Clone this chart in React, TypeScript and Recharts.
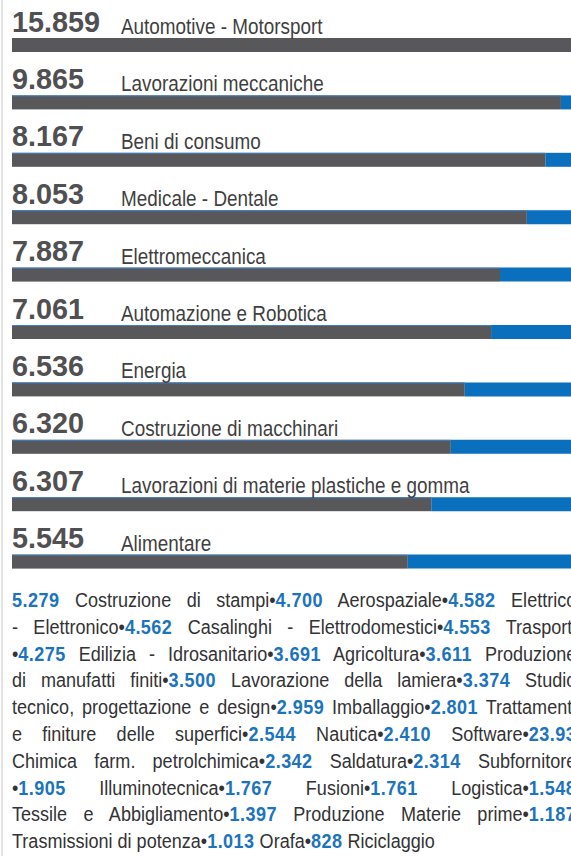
import { Bar, BarChart, LabelList, XAxis, YAxis } from "recharts"

// top ten sectors, drawn as bars
const categories = [
  "Automotive - Motorsport",
  "Lavorazioni meccaniche",
  "Beni di consumo",
  "Medicale - Dentale",
  "Elettromeccanica",
  "Automazione e Robotica",
  "Energia",
  "Costruzione di macchinari",
  "Lavorazioni di materie plastiche e gomma",
  "Alimentare",
]
const totals = [15859, 9865, 8167, 8053, 7887, 7061, 6536, 6320, 6307, 5545]
// gray / blue split of each bar, in % of the row width
const grayShare = [100, 98.2, 95.4, 92.1, 87.3, 85.7, 81.0, 78.5, 75.0, 70.8]
const blueShare = [0, 1.8, 4.6, 7.9, 12.7, 14.3, 19.0, 21.5, 25.0, 29.2]

// the rest, written as running text under the bars ("\n" = line break in the print)
const otherValues = [
  "5.279", "4.700", "4.582", "4.562", "4.553", "4.275", "3.691", "3.611", "3.500", "3.374",
  "2.959", "2.801", "2.544", "2.410", "23.93", "2.342", "2.314", "1.905", "1.767", "1.761",
  "1.548", "1.397", "1.187", "1.013", "828",
]
const otherLabels = [
  "Costruzione di stampi",
  "Aerospaziale",
  "Elettrico\n- Elettronico",
  "Casalinghi - Elettrodomestici",
  "Trasporti\n",
  "Edilizia - Idrosanitario",
  "Agricoltura",
  "Produzione\ndi manufatti finiti",
  "Lavorazione della lamiera",
  "Studio\ntecnico, progettazione e design",
  "Imballaggio",
  "Trattamenti\ne finiture delle superfici",
  "Nautica",
  "Software",
  "\nChimica farm. petrolchimica",
  "Saldatura",
  "Subfornitore\n",
  "Illuminotecnica",
  "Fusioni",
  "Logistica",
  "\nTessile e Abbigliamento",
  "Produzione Materie prime",
  "\nTrasmissioni di potenza",
  "Orafa",
  "Riciclaggio",
]

const GRAY = "#58585a"
const BLUE = "#0a70bd"
const FONT = "'Liberation Sans', Arial, Helvetica, sans-serif"

const fmt = (n: number) => n.toString().replace(/\B(?=(\d{3})+(?!\d))/g, ".")

const rows = categories.map((name, i) => ({
  name,
  valueText: fmt(totals[i]),
  gray: grayShare[i],
  blue: blueShare[i],
  rim: i > 0,
}))

function ValueLabel(props: any) {
  const vb = props.viewBox || props
  return (
    <text
      transform={`translate(12,${vb.y - 6.5}) scale(0.96,1)`}
      fontFamily={FONT}
      fontSize={30}
      fontWeight="bold"
      fill="#505052"
    >
      {props.value}
    </text>
  )
}

function NameLabel(props: any) {
  const vb = props.viewBox || props
  return (
    <text
      transform={`translate(121,${vb.y - 4}) scale(0.84,1)`}
      fontFamily={FONT}
      fontSize={22.5}
      fill="#3f3f41"
    >
      {props.value}
    </text>
  )
}

function GrayShape(props: any) {
  const { x, y, width, height, payload } = props
  return (
    <g>
      <rect x={x} y={y} width={width} height={height} fill={GRAY} />
      {payload?.rim && <rect x={x} y={y} width={width} height={1} fill="#3d80c8" />}
    </g>
  )
}

type Piece = { t: string; b: boolean }

function buildLines() {
  const lines: Piece[][] = [[]]
  const push = (s: string, b: boolean) => {
    s.split("\n").forEach((p, k) => {
      if (k > 0) lines.push([])
      if (p) lines[lines.length - 1].push({ t: p, b })
    })
  }
  otherValues.forEach((v, i) => {
    if (i > 0) push("•", false)
    push(v, true)
    push(" " + otherLabels[i], false)
  })
  return lines
}

export default function App() {
  const lines = buildLines()
  return (
    <div
      style={{
        position: "fixed",
        left: 0,
        top: 0,
        width: 571,
        height: 856,
        overflow: "hidden",
        background: "#fff",
        fontFamily: FONT,
      }}
    >
      <div style={{ position: "absolute", left: 1, top: 0, width: 2, height: 856, background: "#e3e3e3" }} />
      <div style={{ position: "absolute", left: 0, top: 0 }}>
        <BarChart
          layout="vertical"
          width={571}
          height={600}
          data={rows}
          margin={{ top: 16, right: 0, left: 12, bottom: 10 }}
        >
          <XAxis type="number" domain={[0, 100]} hide />
          <YAxis type="category" dataKey="name" hide width={0} />
          <Bar dataKey="gray" stackId="a" fill={GRAY} barSize={14} shape={GrayShape} isAnimationActive={false}>
            <LabelList dataKey="valueText" content={ValueLabel} />
            <LabelList dataKey="name" content={NameLabel} />
          </Bar>
          <Bar dataKey="blue" stackId="a" fill={BLUE} barSize={14} isAnimationActive={false} />
        </BarChart>
      </div>
      <div
        style={{
          position: "absolute",
          left: 12,
          top: 587,
          width: 610,
          transform: "scaleX(0.925)",
          transformOrigin: "left top",
          fontSize: 19.5,
          lineHeight: "26.8px",
          color: "#333335",
        }}
      >
        {lines.map((line, li) => (
          <div
            key={li}
            style={{
              textAlign: li === lines.length - 1 ? "left" : "justify",
              textAlignLast: li === lines.length - 1 ? "left" : "justify",
            }}
          >
            {line.map((p, pi) =>
              p.b ? (
                <b key={pi} style={{ color: "#1b74bd", letterSpacing: 0.5 }}>
                  {p.t}
                </b>
              ) : (
                <span key={pi}>{p.t}</span>
              )
            )}
          </div>
        ))}
      </div>
    </div>
  )
}
